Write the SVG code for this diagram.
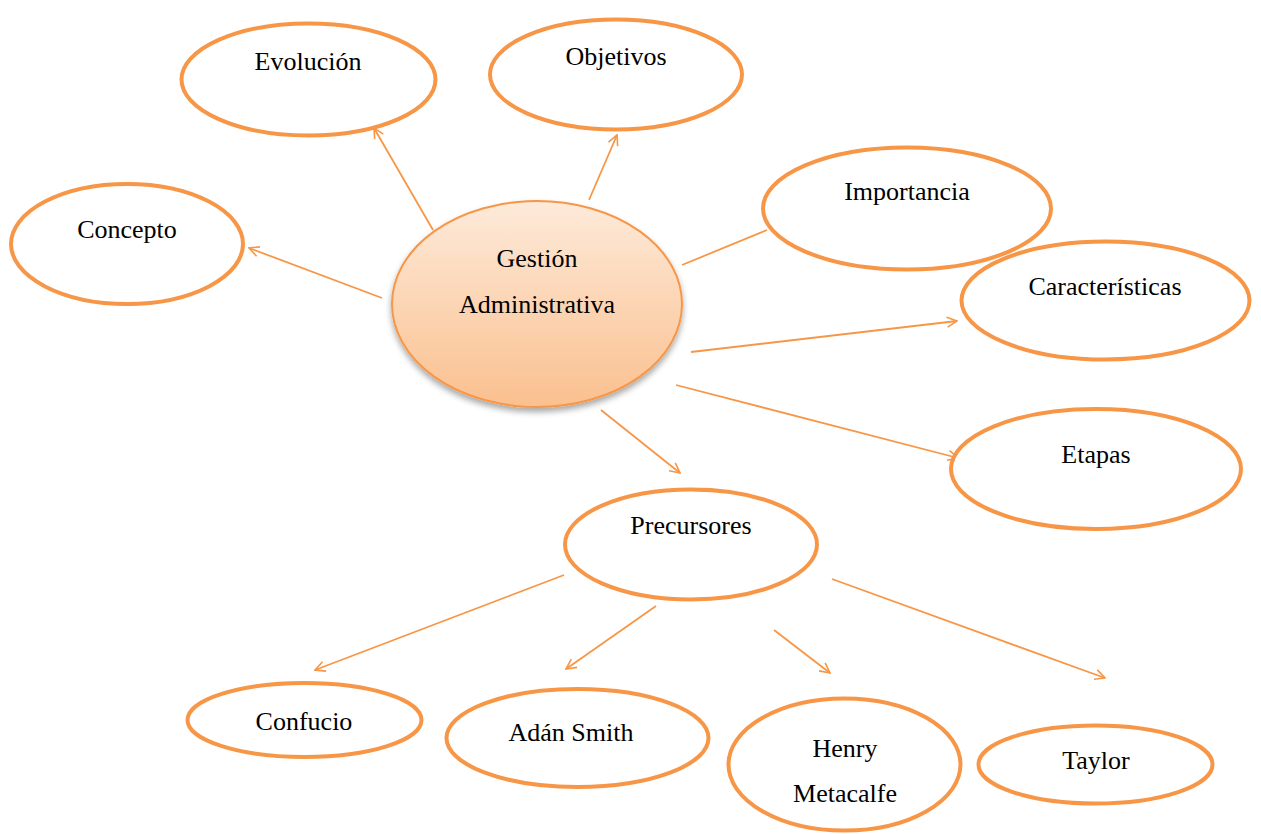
<svg xmlns="http://www.w3.org/2000/svg" width="1261" height="834" viewBox="0 0 1261 834">
  <defs>
    <linearGradient id="centerFill" x1="0" y1="0" x2="0" y2="1">
      <stop offset="0" stop-color="#FDEADA"/>
      <stop offset="0.5" stop-color="#FCD5B4"/>
      <stop offset="1" stop-color="#FAC08F"/>
    </linearGradient>
    <filter id="shadow" x="-20%" y="-20%" width="140%" height="150%">
      <feGaussianBlur in="SourceAlpha" stdDeviation="3"/>
      <feOffset dx="0" dy="4" result="b"/>
      <feComponentTransfer><feFuncA type="linear" slope="0.35"/></feComponentTransfer>
      <feMerge><feMergeNode/><feMergeNode in="SourceGraphic"/></feMerge>
    </filter>
    <marker id="open" viewBox="0 0 12 12" refX="11" refY="6" markerWidth="12" markerHeight="12" markerUnits="userSpaceOnUse" orient="auto">
      <path d="M1,1 L11,6 L1,11" fill="none" stroke="#F79646" stroke-width="1.6"/>
    </marker>
  </defs>
  <style>
    .node { fill: #FFFFFF; stroke: #F79646; stroke-width: 4; }
    .center { fill: url(#centerFill); stroke: #F79646; stroke-width: 2; }
    .label { font-family: "Liberation Serif", "Times New Roman", serif; font-size: 26px; fill: #000000; text-anchor: middle; }
    .edge { fill: none; stroke: #F79646; stroke-width: 1.8; }
    .arrow { marker-end: url(#open); }
  </style>
  <rect width="1261" height="834" fill="#FFFFFF"/>

  <g id="connectors">
    <line class="edge arrow" x1="382" y1="298" x2="249" y2="248"/>
    <line class="edge arrow" x1="433" y1="230" x2="374" y2="128"/>
    <line class="edge arrow" x1="589" y1="200" x2="617" y2="135"/>
    <line class="edge" x1="682" y1="265" x2="767" y2="230"/>
    <line class="edge arrow" x1="691" y1="352" x2="957" y2="321"/>
    <line class="edge arrow" x1="676" y1="385" x2="958" y2="458"/>
    <line class="edge arrow" x1="601" y1="410" x2="680" y2="473"/>
    <line class="edge arrow" x1="564" y1="575" x2="315" y2="670"/>
    <line class="edge arrow" x1="656" y1="606" x2="566" y2="669"/>
    <line class="edge arrow" x1="774" y1="630" x2="830" y2="673"/>
    <line class="edge arrow" x1="832" y1="579" x2="1105" y2="678"/>
  </g>

  <g id="evolucion">
    <ellipse class="node" cx="308.5" cy="79.5" rx="127" ry="56"/>
    <text class="label" x="308" y="70">Evolución</text>
  </g>
  <g id="objetivos">
    <ellipse class="node" cx="616" cy="74.5" rx="126" ry="55"/>
    <text class="label" x="616" y="65">Objetivos</text>
  </g>
  <g id="importancia">
    <ellipse class="node" cx="907" cy="208.5" rx="144" ry="61"/>
    <text class="label" x="907" y="200">Importancia</text>
  </g>
  <g id="concepto">
    <ellipse class="node" cx="127" cy="244" rx="116" ry="60"/>
    <text class="label" x="127" y="238">Concepto</text>
  </g>
  <g id="gestion">
    <ellipse class="center" filter="url(#shadow)" cx="537" cy="304" rx="145" ry="103"/>
    <text class="label" x="537" y="267">Gestión</text>
    <text class="label" x="537" y="313">Administrativa</text>
  </g>
  <g id="caracteristicas">
    <ellipse class="node" cx="1105.5" cy="300.5" rx="144" ry="59"/>
    <text class="label" x="1105" y="295">Características</text>
  </g>
  <g id="etapas">
    <ellipse class="node" cx="1096" cy="469" rx="145" ry="60"/>
    <text class="label" x="1096" y="463">Etapas</text>
  </g>
  <g id="precursores">
    <ellipse class="node" cx="691" cy="544.5" rx="126" ry="55"/>
    <text class="label" x="691" y="534">Precursores</text>
  </g>
  <g id="confucio">
    <ellipse class="node" cx="304.5" cy="720" rx="117" ry="37"/>
    <text class="label" x="304" y="730">Confucio</text>
  </g>
  <g id="adan-smith">
    <ellipse class="node" cx="577.5" cy="738" rx="131" ry="49"/>
    <text class="label" x="571" y="741">Adán Smith</text>
  </g>
  <g id="henry-metacalfe">
    <ellipse class="node" cx="844.5" cy="764.5" rx="116" ry="66"/>
    <text class="label" x="845" y="757">Henry</text>
    <text class="label" x="845" y="802">Metacalfe</text>
  </g>
  <g id="taylor">
    <ellipse class="node" cx="1095.5" cy="764.5" rx="117" ry="39"/>
    <text class="label" x="1096" y="769">Taylor</text>
  </g>
</svg>
